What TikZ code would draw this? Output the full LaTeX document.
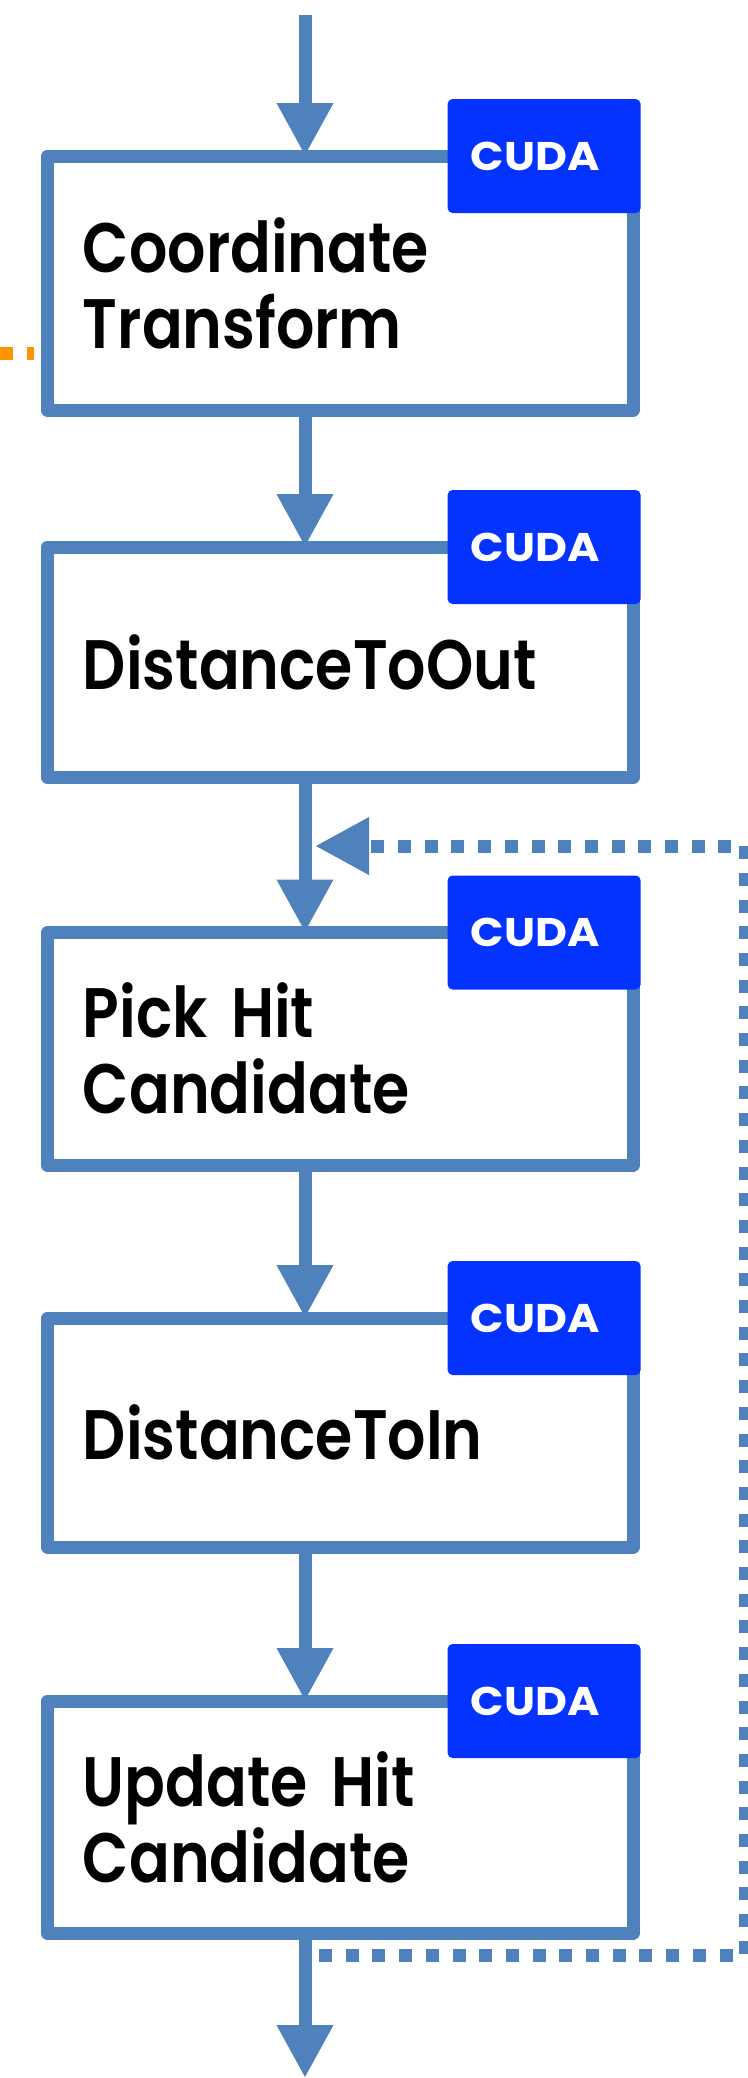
\documentclass[tikz,border=0pt]{standalone}
\usepackage{fontspec}
\usetikzlibrary{arrows.meta,calc}
\newfontfamily\stagefont{Poppins SemiBold}[FakeStretch=0.86]
\newfontfamily\badgefont{Poppins Bold}[FakeStretch=1.1]
\definecolor{flowblue}{RGB}{79,129,189}
\definecolor{cudablue}{RGB}{4,51,255}
\definecolor{feedorange}{RGB}{255,147,0}

\begin{document}
\begin{tikzpicture}[x=0.5pt,y=-0.5pt,
    stage/.style={draw=flowblue,line width=6.5pt,line join=round,fill=white,outer sep=0pt,
      minimum width=292.75pt,text width=257.25pt,inner xsep=17.75pt,align=left,anchor=north west,
      font=\stagefont\fontsize{35}{38}\selectfont},
    cuda/.style={fill=cudablue,rounded corners=2.5pt,minimum width=96.5pt,minimum height=57pt,
      inner sep=0pt,text=white,font=\badgefont\fontsize{20}{24}\selectfont,anchor=east},
    flow/.style={draw=flowblue,line width=6.5pt,-{Triangle[length=26.5pt,width=26.5pt]}},
    loopline/.style={draw=flowblue,line width=6.5pt,dash pattern=on 6.5pt off 6.85pt,
      -{Triangle[length=27pt,width=27pt]}}]
  \useasboundingbox (0,0) rectangle (748,2078);

  % kernel stages
  \node[stage,minimum height=127pt] (ct) at (47.5,156) {Coordinate\\Transform};
  \node[stage,minimum height=115.25pt] (dto) at (47.5,547) {DistanceToOut};
  \node[stage,minimum height=116.25pt] (pick) at (47.5,932.5) {Pick Hit\\Candidate};
  \node[stage,minimum height=114.5pt] (dti) at (47.5,1318) {DistanceToIn};
  \node[stage,minimum height=116pt] (upd) at (47.5,1701) {Update Hit\\Candidate};

  % CUDA tags on the corners
  \node[cuda] (ctcuda) at ([xshift=4pt]ct.north east) {\hspace*{-9pt}CUDA};
  \node[cuda] (dtocuda) at ([xshift=4pt]dto.north east) {\hspace*{-9pt}CUDA};
  \node[cuda] (pickcuda) at ([xshift=4pt]pick.north east) {\hspace*{-9pt}CUDA};
  \node[cuda] (dticuda) at ([xshift=4pt]dti.north east) {\hspace*{-9pt}CUDA};
  \node[cuda] (updcuda) at ([xshift=4pt]upd.north east) {\hspace*{-9pt}CUDA};

  % main flow
  \coordinate (in) at (305,15);
  \coordinate (out) at (305,2078);
  \draw[flow] (in) -- (in |- ct.north);
  \draw[flow] (in |- ct.south) -- (in |- dto.north);
  \draw[flow] (in |- dto.south) -- (in |- pick.north);
  \draw[flow] (in |- pick.south) -- (in |- dti.north);
  \draw[flow] (in |- dti.south) -- (in |- upd.north);
  \draw[flow] (in |- upd.south) -- (out);

  % loop back to the hit candidate
  \coordinate (loopout) at (319,1955);
  \coordinate (loopin) at (315,846);
  \draw[loopline] (loopout) -- ++(426,0) |- (loopin);

  % incoming feed
  \coordinate (feed) at (0,353);
  \draw[feedorange,line width=6.5pt,dash pattern=on 6.5pt off 7pt] (feed) -- ++(34,0);
\end{tikzpicture}
\end{document}
